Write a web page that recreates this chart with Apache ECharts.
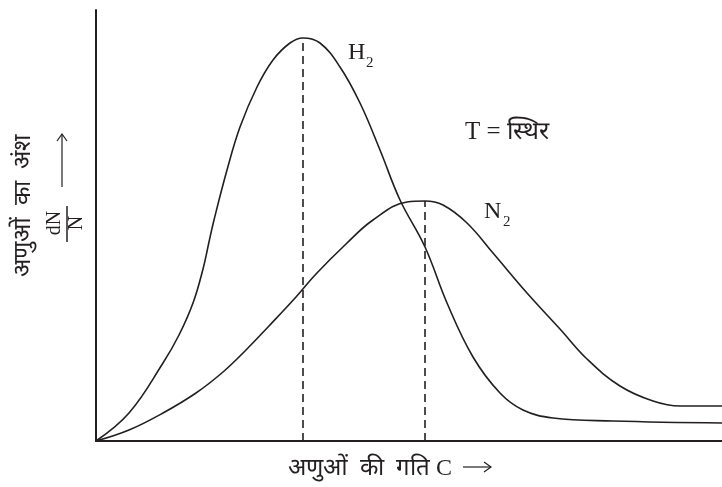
<!DOCTYPE html>
<html>
<head>
<meta charset="utf-8">
<script src="https://cdn.jsdelivr.net/npm/echarts@6/dist/echarts.min.js"></script>
<style>
html,body{margin:0;padding:0;background:#fff}
#chart{width:722px;height:487px}
</style>
</head>
<body>
<div id="chart"></div>
<script>
// H2 वक्र : गति, अंश (चित्र से पढ़े गये)
var h2Speed = [0, 33, 67, 83, 97, 107, 113, 118, 131, 144, 161, 177, 194, 207, 224, 244, 264, 284, 304, 329, 351, 377, 404, 427, 457, 517, 626];
var h2Frac  = [0, 28, 78, 106, 138, 172, 199, 221, 271, 314, 354, 381, 398, 403, 398, 374, 338, 291, 241, 194, 138, 84, 48, 31, 23, 20, 18];
// N2 वक्र
var n2Speed = [0, 33, 67, 100, 127, 150, 173, 200, 220, 250, 277, 311, 329, 347, 371, 397, 431, 464, 491, 524, 557, 584, 626];
var n2Frac  = [0, 11, 28, 48, 69, 91, 115, 144, 167, 197, 221, 239, 240, 236, 218, 188, 148, 112, 82, 55, 40, 35, 35];
// शिखर (dashed lines)
var peakSpeed = [207, 329];
var peakFrac  = [403, 240];

var ink = '#231f20';
var serif = '"Liberation Serif", "DejaVu Serif", serif';

function pairs(xs, ys){
    return xs.map(function(x, i){ return [x, ys[i]]; });
}

var chart = echarts.init(document.getElementById('chart'));
option = {
    animation: false,
    grid: {left: 96, right: 0, top: 10, bottom: 46},
    xAxis: {
        type: 'value', min: 0, max: 626,
        axisLine: {lineStyle: {color: ink, width: 2}},
        axisTick: {show: false}, axisLabel: {show: false}, splitLine: {show: false}
    },
    yAxis: {
        type: 'value', min: 0, max: 431,
        axisLine: {show: true, lineStyle: {color: ink, width: 2}},
        axisTick: {show: false}, axisLabel: {show: false}, splitLine: {show: false}
    },
    series: [
        {
            name: 'H2', type: 'line', smooth: 0.4, showSymbol: false,
            lineStyle: {color: ink, width: 1.6},
            data: pairs(h2Speed, h2Frac)
        },
        {
            name: 'N2', type: 'line', smooth: 0.4, showSymbol: false,
            lineStyle: {color: ink, width: 1.6},
            data: pairs(n2Speed, n2Frac)
        },
        {
            name: 'peakH2', type: 'line', showSymbol: false,
            lineStyle: {color: ink, width: 1.6, type: [8, 5]},
            data: [[peakSpeed[0], 0], [peakSpeed[0], peakFrac[0]]]
        },
        {
            name: 'peakN2', type: 'line', showSymbol: false,
            lineStyle: {color: ink, width: 1.6, type: [8, 5]},
            data: [[peakSpeed[1], 0], [peakSpeed[1], peakFrac[1]]]
        }
    ],
    graphic: [
        // H2 label
        {type: 'text', left: 348, top: 41, style: {text: 'H', font: '24px ' + serif, fill: ink}},
        {type: 'text', left: 366, top: 56, style: {text: '2', font: '15px ' + serif, fill: ink}},
        // N2 label
        {type: 'text', left: 484, top: 200, style: {text: 'N', font: '24px ' + serif, fill: ink}},
        {type: 'text', left: 503, top: 215, style: {text: '2', font: '15px ' + serif, fill: ink}},
        // T = स्थिर
        {type: 'text', left: 465, top: 120, style: {text: 'T = स्थिर', font: '25px ' + serif, fill: ink}},
        // y axis label
        {type: 'text', x: 24, y: 206, rotation: Math.PI / 2,
         style: {text: 'अणुओं  का  अंश', font: '24px ' + serif, fill: ink, align: 'center', verticalAlign: 'middle'}},
        {type: 'text', x: 55, y: 223, rotation: Math.PI / 2,
         style: {text: 'dN', font: '20px ' + serif, fill: ink, align: 'center', verticalAlign: 'middle'}},
        {type: 'line', shape: {x1: 67, y1: 206, x2: 67, y2: 242}, style: {stroke: ink, lineWidth: 1.5}},
        {type: 'text', x: 77, y: 223, rotation: Math.PI / 2,
         style: {text: 'N', font: '20px ' + serif, fill: ink, align: 'center', verticalAlign: 'middle'}},
        {type: 'line', shape: {x1: 62, y1: 187, x2: 62, y2: 134}, style: {stroke: ink, lineWidth: 1.2}},
        {type: 'polyline', shape: {points: [[57, 141], [62, 134], [67, 141]]}, style: {stroke: ink, fill: null, lineWidth: 1.2}},
        // x axis label
        {type: 'text', x: 288, y: 469,
         style: {text: 'अणुओं  की  गति C', font: '24px ' + serif, fill: ink, align: 'left', verticalAlign: 'middle'}},
        {type: 'line', shape: {x1: 463, y1: 467, x2: 491, y2: 467}, style: {stroke: ink, lineWidth: 1.2}},
        {type: 'polyline', shape: {points: [[484, 462], [491, 467], [484, 472]]}, style: {stroke: ink, fill: null, lineWidth: 1.2}}
    ]
};
chart.setOption(option);
</script>
</body>
</html>
